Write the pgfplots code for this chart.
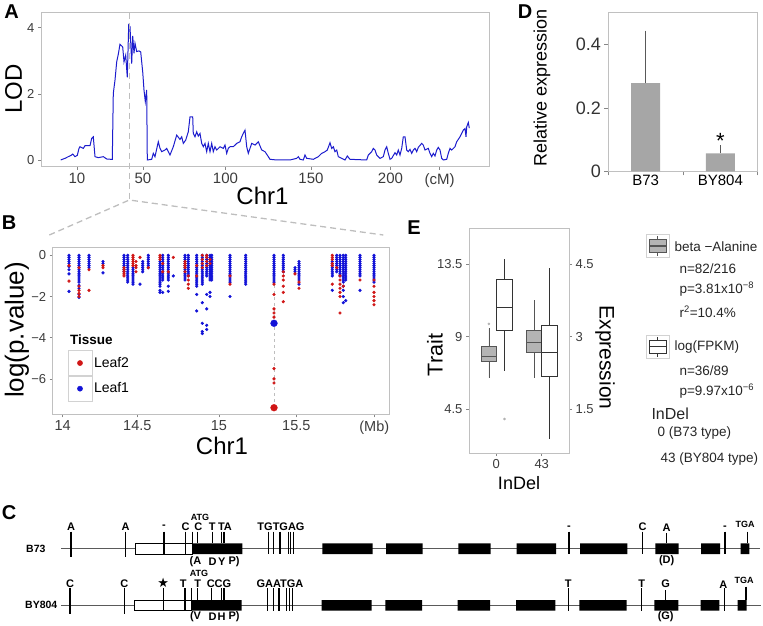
\documentclass[border=0pt]{standalone}
\usepackage{pgfplots}
\pgfplotsset{compat=1.18}
\usepgfplotslibrary{statistics}
\usepackage{fontspec}
\setmainfont{Liberation Sans}
\newfontfamily\symfont{DejaVu Sans}
\newcommand\fs[1]{\fontsize{#1}{#1}\selectfont}

\definecolor{lodblue}{RGB}{28,28,205}
\definecolor{ptblue}{RGB}{18,18,215}
\definecolor{ptred}{RGB}{208,22,22}
\definecolor{frame}{RGB}{192,192,192}
\definecolor{ticktxt}{RGB}{60,60,60}
\definecolor{boxgray}{RGB}{180,180,180}
\definecolor{boxedge}{RGB}{85,85,85}
\definecolor{bargray}{RGB}{166,166,166}
\definecolor{dashgray}{RGB}{190,190,190}
\definecolor{geneline}{RGB}{90,90,90}

\pgfplotsset{
  gg/.style={scale only axis, anchor=south west,
    axis line style={draw=frame, line width=0.8pt},
    tick align=outside, major tick length=3pt,
    tick style={draw=frame!70!black, line width=0.7pt},
    xtick pos=bottom, ytick pos=left,
    /pgf/number format/assume math mode=true,
    tick label style={text=ticktxt, font=\fs{13}},
    clip mode=individual},
}

\begin{document}
\begin{tikzpicture}[x=1pt,y=1pt]
\useasboundingbox (0,0) rectangle (763,-625);

% ---------------- A: LOD profile
\begin{axis}[gg, at={(41pt,-166.7pt)}, width=448pt, height=154pt,
  xmin=41, xmax=489, ymin=-0.193, ymax=4.452,
  xtick={77,143,225.5,311,390.5,439.5}, xticklabels={10,50,100,150,200,(cM)},
  ytick={0,2,4}, yticklabels={0,2,4},
  xticklabel style={font=\fs{15}}]
\addplot[lodblue, line width=1pt] coordinates {
(60.7,0.01)(65,0.06)(68.3,0.11)(71.7,0.16)(72.7,0.19)(75,0.11)(77.3,0.15)(79,0.36)(80,0.41)(83.3,0.36)(85,0.44)(90,0.44)(91.7,0.66)(93.3,0.71)(95,0.11)(98.3,0.08)(103.3,0.11)(106.7,0.04)(111,0.03)(112.3,0.03)(113.3,2.02)(115,2.42)(116.7,2.97)(118.3,3.2)(120,3.5)(122.7,3.42)(124,2.97)(125.7,3.17)(127.3,2.5)(128.7,4.08)(130,4.03)(131.7,2.92)(132.7,3.75)(134,3.23)(135,3.53)(136.7,3.28)(139,3.3)(140.7,3.27)(142.7,2.67)(144,2.12)(145.3,1.77)(146.7,2.12)(147.3,0.01)(151.7,0.03)(153.3,0.21)(155,0.11)(158.3,0.56)(160,0.36)(161.7,0.26)(165,0.31)(166.7,0.36)(170,0.16)(173.3,0.41)(176.7,0.76)(180,0.63)(181.7,0.71)(183.3,0.51)(185.7,0.61)(188.3,0.86)(190,1.31)(192.7,1.31)(193.3,0.81)(195,0.71)(196.7,0.86)(198.3,0.73)(200,0.81)(201.7,0.51)(203.3,0.41)(205,0.51)(206.7,0.26)(208.3,0.51)(210,0.26)(211.7,0.51)(213.3,0.26)(215,0.41)(216.7,0.31)(220,0.41)(223.3,0.36)(225,0.46)(226.7,0.21)(228.3,0.36)(230,0.41)(233.3,0.41)(236.7,0.51)(240,0.56)(241.7,0.71)(243.3,0.81)(245,0.91)(246.7,0.41)(248.3,0.21)(251.7,0.51)(255,0.46)(258.3,0.56)(261.7,0.31)(265,0.26)(268.3,0.11)(270,0.03)(276.7,0.01)(290,0.01)(296.7,0.06)(298.3,0.11)(300,0.03)(303.3,0.01)(305,0.16)(306.7,0.06)(313.3,0.03)(318.3,0.11)(321.7,0.21)(325,0.26)(327.3,0.31)(330,0.53)(331.7,0.36)(333.3,0.41)(335,0.26)(336.7,0.31)(338.3,0.11)(341.7,0.06)(345,0.01)(347.3,0.13)(350,0.03)(366.7,0.01)(368.3,0.16)(371.7,0.26)(373.3,0.36)(375,0.31)(376.7,0.16)(380,0.06)(383.3,0.11)(385,0.31)(386.7,0.41)(388.3,0.21)(390,0.03)(391.7,0.06)(395,0.23)(396.7,0.16)(398.3,0.31)(400,0.16)(401.7,0.36)(403.3,0.71)(405,0.71)(406.7,0.31)(408.3,0.26)(410,0.33)(411.7,0.21)(413.3,0.31)(415,0.36)(416.7,0.26)(418.3,0.39)(421.7,0.51)(423.3,0.46)(425,0.31)(428.3,0.36)(430,0.21)(431.7,0.11)(433.3,0.21)(435,0.13)(436.7,0.31)(438.3,0.39)(440,0.31)(441.7,0.06)(443.3,0.01)(446.7,0.03)(448.3,0.21)(450,0.36)(451.7,0.31)(455,0.41)(456.7,0.56)(460,0.71)(463.3,0.91)(465,0.96)(466,0.71)(466.7,1.01)(468.3,1.14)(469.3,0.97)};
\end{axis}

% ---------------- B: association scan
\begin{axis}[gg, at={(52.7pt,-414.3pt)}, width=336.3pt, height=166.6pt,
  xmin=52.7, xmax=389, ymin=-7.72, ymax=0.37,
  xtick={62.7,137.3,219,296.3,374.3}, xticklabels={14,14.5,15,15.5,(Mb)},
  ytick={-6,-4,-2,0}, yticklabels={−6,−4,−2,0},
  xticklabel style={font=\fs{14.5}},
  legend style={at={(axis cs:67.3,-4.6)}, anchor=north west, draw=none, fill=none,
    font=\fs{14}, row sep=0pt, inner sep=0pt, nodes={inner sep=1.5pt}},
  legend cell align=left,
  legend image code/.code={\draw[draw=gray!35, fill=white, line width=0.6pt] (0pt,-12.5pt) rectangle (24.4pt,12.5pt); \fill (12.2pt,0pt) circle (2.6pt);},
  reverse legend]
\draw[dashgray, dashed, line width=0.8pt] (274,0) -- (274,-7.4);
\addplot[only marks, mark=*, mark size=1.4pt, ptblue, mark options={draw=none}] coordinates {
(69,0)(69,-0.1)(69,-0.2)(69,-0.3)(69,-0.4)(69,-0.55)(69,-0.7)(69,-0.9)(69,-1.75)
(79,0)(79,-0.1)(79,-0.2)(79,-0.3)(79,-0.4)(79,-0.5)(79,-0.6)(79,-0.7)(79,-0.8)(79,-0.9)(79,-1.0)(79,-1.1)(79,-1.2)(79,-1.3)(79,-1.45)(79,-1.6)(79,-1.9)(79,-2.05)
(89,0)(89,-0.1)(89,-0.2)(89,-0.3)(89,-0.4)(89,-0.5)(89,-0.6)
(103,-0.3)(103,-0.4)(103,-0.85)
(124,0)(124,-0.1)(124,-0.2)(124,-0.3)(124,-0.4)(124,-0.5)(124,-0.6)(124,-0.7)(124,-0.8)
(127.7,0)(127.7,-0.1)(127.7,-0.2)(127.7,-0.3)(127.7,-0.4)(127.7,-0.5)(127.7,-0.6)(127.7,-0.7)(127.7,-0.8)(127.7,-0.9)(127.7,-1.0)(127.7,-1.1)(127.7,-1.2)(127.7,-1.3)
(133,-0.6)(133,-0.7)(133,-0.8)(133,-0.9)(133,-1.0)(133,-1.1)(133,-1.2)(133,-1.3)(133,-1.4)
(140,-1.4)
(142.7,-0.3)(142.7,-0.4)(142.7,-0.5)(142.7,-0.6)(142.7,-0.7)(142.7,-0.8)
(148.3,0)(148.3,-0.1)(148.3,-0.2)(148.3,-0.3)(148.3,-0.4)(148.3,-0.5)(148.3,-0.6)
(160,-0.3)(160,-0.4)(160,-0.5)(160,-0.6)(160,-0.7)(160,-0.8)(160,-0.9)(160,-1.0)(160,-1.1)(160,-1.2)(160,-1.3)(160,-1.4)(160,-1.5)(160,-1.7)(160,-1.8)
(162.7,0)(162.7,-0.1)(162.7,-0.2)(162.7,-0.3)(162.7,-0.4)(162.7,-0.5)(162.7,-0.6)(162.7,-0.7)(162.7,-0.8)(162.7,-0.9)(162.7,-1.0)(162.7,-1.1)(162.7,-1.2)(162.7,-1.8)
(168.3,0)(168.3,-0.1)(168.3,-0.2)(168.3,-0.3)(168.3,-0.4)(168.3,-0.5)(168.3,-0.6)(168.3,-0.7)(168.3,-0.8)(168.3,-0.9)(168.3,-1.0)(168.3,-1.1)(168.3,-1.2)(168.3,-1.5)(168.3,-1.75)
(173.3,-1.0)
(185,0)(185,-0.1)(185,-0.2)(185,-0.3)(185,-0.4)(185,-0.5)(185,-0.6)(185,-0.7)(185,-0.8)(185,-0.9)(185,-1.0)(185,-1.1)(185,-1.2)
(188.3,0)(188.3,-0.1)(188.3,-0.2)(188.3,-0.3)(188.3,-0.4)(188.3,-0.5)(188.3,-0.6)(188.3,-0.7)(188.3,-0.8)(188.3,-0.9)(188.3,-1.0)
(196.7,0)(196.7,-0.1)(196.7,-0.2)(196.7,-0.3)(196.7,-0.4)(196.7,-0.5)(196.7,-0.6)(196.7,-0.7)(196.7,-0.8)(196.7,-0.9)(196.7,-1.0)(196.7,-1.1)(196.7,-1.2)(196.7,-1.3)(196.7,-1.4)(196.7,-1.5)(196.7,-1.9)(196.7,-2.7)
(202.3,0)(202.3,-0.1)(202.3,-0.2)(202.3,-0.3)(202.3,-0.4)(202.3,-0.5)(202.3,-0.6)(202.3,-0.7)(202.3,-0.8)(202.3,-0.9)(202.3,-1.0)(202.3,-1.1)(202.3,-1.2)(202.3,-1.3)(202.3,-1.4)(202.3,-2.3)(202.3,-3.3)(202.3,-3.7)(202.3,-3.8)
(206.7,0)(206.7,-0.1)(206.7,-0.2)(206.7,-0.3)(206.7,-0.4)(206.7,-0.5)(206.7,-0.6)(206.7,-0.7)(206.7,-0.8)(206.7,-0.9)(206.7,-1.0)(206.7,-1.9)(206.7,-2.6)(206.7,-3.4)(206.7,-3.6)
(210,0)(210,-0.1)(210,-0.2)(210,-0.3)(210,-0.4)(210,-0.5)(210,-0.6)(210,-0.7)(210,-0.8)(210,-0.9)(210,-1.0)(210,-1.1)(210,-1.2)(210,-1.8)(210,-2.0)
(211.7,0)(211.7,-0.1)(211.7,-0.2)(211.7,-0.3)(211.7,-0.4)(211.7,-0.5)(211.7,-0.6)(211.7,-0.7)(211.7,-0.8)(211.7,-0.9)(211.7,-1.0)(211.7,-1.1)(211.7,-1.2)
(230,0)(230,-0.1)(230,-0.2)(230,-0.3)(230,-0.4)(230,-0.5)(230,-0.6)(230,-0.7)(230,-0.8)(230,-0.9)(230,-1.0)(230,-1.1)(230,-1.2)(230,-1.3)(230,-2.0)
(245.7,0)(245.7,-0.1)(245.7,-0.2)(245.7,-0.3)(245.7,-0.4)(245.7,-0.5)(245.7,-0.6)(245.7,-0.7)(245.7,-0.8)(245.7,-0.9)(245.7,-1.0)(245.7,-1.1)(245.7,-1.2)(245.7,-1.3)(245.7,-1.4)
(274,0)(274,-0.1)(274,-0.2)(274,-0.3)(274,-0.4)(274,-0.5)(274,-0.6)(274,-0.7)(274,-0.8)(274,-0.9)(274,-1.0)(274,-1.1)(274,-1.2)(274,-1.3)
(283.3,0)(283.3,-0.1)(283.3,-0.2)(283.3,-0.3)(283.3,-0.4)(283.3,-0.5)(283.3,-0.6)(283.3,-0.7)(283.3,-0.8)
(295,-0.6)(295,-0.7)(295,-0.8)
(299,-0.3)(299,-0.4)(299,-0.5)(299,-0.6)(299,-0.7)(299,-0.8)(299,-0.9)(299,-1.0)(299,-1.1)(299,-1.2)(299,-1.4)
(332.3,-0.3)(332.3,-0.4)(332.3,-0.5)(332.3,-0.6)(332.3,-0.7)(332.3,-0.8)(332.3,-0.9)(332.3,-1.0)(332.3,-1.7)
(336.7,0)(336.7,-0.1)(336.7,-0.2)(336.7,-0.3)(336.7,-0.4)(336.7,-0.5)(336.7,-0.6)(336.7,-0.7)(336.7,-0.8)
(340,0)(340,-0.1)(340,-0.2)(340,-0.3)(340,-0.4)(340,-0.5)(340,-0.6)(340,-0.7)(340,-0.8)(340,-0.9)(340,-1.0)
(343.3,0)(343.3,-0.1)(343.3,-0.2)(343.3,-0.3)(343.3,-0.4)(343.3,-0.5)(343.3,-0.6)(343.3,-0.7)(343.3,-0.8)(343.3,-0.9)(343.3,-1.0)(343.3,-1.1)(343.3,-1.2)(343.3,-1.3)(343.3,-1.5)(343.3,-1.7)(343.3,-2.0)(343.3,-2.3)
(345.7,0)(345.7,-0.1)(345.7,-0.2)(345.7,-0.3)(345.7,-0.4)(345.7,-0.5)(345.7,-0.6)(345.7,-0.7)(345.7,-0.8)(345.7,-0.9)(345.7,-1.0)(345.7,-1.1)(345.7,-1.2)(345.7,-2.2)
(360,0)(360,-0.1)(360,-0.2)(360,-0.3)(360,-0.4)(360,-0.5)(360,-0.6)(360,-0.7)(360,-0.8)(360,-0.9)(360,-1.0)(360,-1.7)
(374,0)(374,-0.1)(374,-0.2)(374,-0.3)(374,-0.4)(374,-0.5)(374,-0.6)(374,-0.7)(374,-0.8)(374,-0.9)(374,-1.0)(374,-1.1)(374,-1.2)(374,-1.3)};
\addlegendentry{Leaf1}
\addplot[only marks, mark=*, mark size=1.4pt, ptred, mark options={draw=none}] coordinates {
(69,-0.5)(69,-1.25)
(79,-0.6)(79,-1.5)(79,-1.7)(79,-1.85)(79,-2.0)
(89,-0.7)(89,-1.7)
(103,-0.5)(103,-0.6)
(124,-0.6)(124,-0.7)(124,-0.8)(124,-0.9)(124,-1.0)
(133,0)(133,-0.1)(133,-0.2)(133,-0.3)(133,-0.4)(133,-0.5)
(136,-0.3)(136,-0.5)(136,-0.6)(136,-0.8)
(140,-0.1)
(148.3,-0.6)
(160,0)(160,-0.1)(160,-0.2)
(162.7,-0.4)(162.7,-0.8)
(168.3,-0.8)
(173.3,-0.1)
(185,-0.3)(185,-0.4)(185,-0.5)(185,-0.6)(185,-0.8)
(188.3,-1.0)(188.3,-1.2)(188.3,-1.4)(188.3,-1.6)
(196.7,-0.5)(196.7,-1.0)
(202.3,0)(202.3,-0.2)(202.3,-0.4)(202.3,-0.6)
(206.7,0)(206.7,-0.1)(206.7,-0.3)(206.7,-0.5)
(210,-0.2)(210,-0.4)
(230,-1.0)(230,-1.4)
(274,-1.4)(274,-1.9)(274,-2.6)(274,-2.8)(274,-3.0)(274,-5.5)(274,-6.0)(274,-6.2)
(283.3,-0.8)(283.3,-1.0)(283.3,-1.2)(283.3,-1.5)(283.3,-1.8)(283.3,-2.25)
(295,-0.9)
(299,-1.3)(299,-1.6)
(332.3,0)(332.3,-0.1)(332.3,-0.2)(332.3,-0.4)(332.3,-0.5)(332.3,-1.4)
(336.7,-0.6)
(340,-1.0)(340,-1.2)(340,-1.4)(340,-1.6)(340,-1.8)(340,-2.0)(340,-2.8)
(343.3,-1.5)
(360,-1.2)
(374,-1.2)(374,-1.5)(374,-1.8)(374,-2.0)(374,-2.2)(374,-2.4)};
\addlegendentry{Leaf2}
\addplot[only marks, mark=*, mark size=3.4pt, ptblue, forget plot] coordinates {(274,-3.3)};
\addplot[only marks, mark=*, mark size=3.4pt, ptred, forget plot] coordinates {(274,-7.4)};
\end{axis}

% ---------------- D: relative expression
\begin{axis}[scale only axis, anchor=south west, at={(608.3pt,-171.3pt)}, width=149.4pt, height=158.6pt,
  xmin=-0.5, xmax=1.5, ymin=0, ymax=0.5,
  axis line style={draw=frame, line width=0.8pt},
  tick align=outside, major tick length=4pt, tick style={draw=frame!70!black, line width=0.7pt},
  xtick pos=bottom, ytick pos=left,
  xtick={-0.5,0.5,1.5}, xticklabels={},
  extra x ticks={0,1}, extra x tick labels={B73,BY804},
  extra x tick style={major tick length=0pt, tick label style={font=\fs{15}}},
  ytick={0,0.2,0.4}, yticklabels={0,0.2,0.4},
  yticklabel style={font=\fs{18}, text=black!80},
  /pgf/number format/assume math mode=true]
\addplot[ybar, bar width=29pt, fill=bargray, draw=none,
  error bars/.cd, y dir=plus, y explicit,
  error bar style={draw=black!65, line width=0.8pt},
  error mark options={draw=black!65, line width=0.8pt, mark size=2.6pt}]
  coordinates {(0,0.278) +- (0,0.157) (1,0.0565) +- (0,0.0175)};
\node[font=\fs{22}] at (axis cs:1,0.097) {*};
\end{axis}

% ---------------- E: boxplots, trait (left axis)
\begin{axis}[gg, at={(469pt,-453pt)}, width=100pt, height=224.7pt,
  xmin=0.4, xmax=2.6, ymin=1.80, ymax=15.71,
  xtick={1,2}, xticklabels={0,43}, ytick={4.5,9,13.5}, yticklabels={4.5,9,13.5},
  boxplot/draw direction=y,
  boxplot/every median/.style={line width=1.3pt}]
\addplot[draw=boxedge, fill=boxgray, line width=0.7pt, boxplot prepared={draw position=0.837,
  lower whisker=6.46, lower quartile=7.45, median=7.76, upper quartile=8.38, upper whisker=9.52,
  box extend=0.34, whisker extend=0}] coordinates {};
\addplot[draw=boxedge, fill=boxgray, line width=0.7pt, boxplot prepared={draw position=1.835,
  lower whisker=6.46, lower quartile=8.03, median=8.65, upper quartile=9.37, upper whisker=11.27,
  box extend=0.34, whisker extend=0}] coordinates {};
\addplot[only marks, mark=*, mark size=1.1pt, gray!60] coordinates {(0.837,9.79)};
\end{axis}

% ---------------- E: boxplots, expression (right axis)
\begin{axis}[scale only axis, anchor=south west, at={(469pt,-453pt)}, width=100pt, height=224.7pt,
  xmin=0.4, xmax=2.6, ymin=0.6, ymax=5.237,
  axis x line=none, axis y line*=right,
  axis line style={draw=frame, line width=0.8pt},
  tick align=outside, major tick length=3pt, tick style={draw=frame!70!black, line width=0.7pt},
  ytick={1.5,3,4.5}, yticklabels={1.5,3,4.5},
  tick label style={text=ticktxt, font=\fs{13}},
  /pgf/number format/assume math mode=true,
  boxplot/draw direction=y,
  boxplot/every median/.style={line width=1.3pt}]
\addplot[draw=black!80, fill=white, line width=0.7pt, boxplot prepared={draw position=1.181,
  lower whisker=2.30, lower quartile=3.14, median=3.60, upper quartile=4.18, upper whisker=4.60,
  box extend=0.34, whisker extend=0}] coordinates {};
\addplot[draw=black!80, fill=white, line width=0.7pt, boxplot prepared={draw position=2.168,
  lower whisker=0.88, lower quartile=2.19, median=2.67, upper quartile=3.23, upper whisker=4.41,
  box extend=0.34, whisker extend=0}] coordinates {};
\addplot[only marks, mark=*, mark size=1.1pt, gray!60] coordinates {(1.181,1.303)};
\end{axis}

% ---------------- canvas: labels, legend of E, connectors, gene model C
\begin{axis}[at={(0pt,-625pt)}, anchor=south west, scale only axis, width=763pt, height=625pt,
  xmin=0, xmax=763, ymin=-625, ymax=0, hide axis, clip=false]
% panel letters
\node[font=\fs{20}\bfseries] at (11.7,-11.7) {A};
\node[font=\fs{20}\bfseries] at (9.2,-222.5) {B};
\node[font=\fs{20}\bfseries] at (9.2,-512.5) {C};
\node[font=\fs{20}\bfseries] at (525,-12) {D};
\node[font=\fs{20}\bfseries] at (414,-227.5) {E};
% axis titles
\node[rotate=90, font=\fs{24}] at (13.5,-89) {LOD};
\node[font=\fs{24}] at (262.5,-196) {Chr1};
\node[rotate=90, font=\fs{26}] at (17,-330) {log(p.value)};
\node[font=\fs{24}] at (222,-446) {Chr1};
\node[rotate=90, font=\fs{18}] at (542,-87.5) {Relative expression};
\node[rotate=90, font=\fs{21.5}] at (435,-355) {Trait};
\node[rotate=-90, font=\fs{21}] at (605,-357.5) {Expression};
\node[font=\fs{18}] at (519,-483) {InDel};
\node[font=\fs{13.5}\bfseries, anchor=west] at (66.5,-340) {Tissue};
% zoom connectors
\draw[dashgray, line width=1.3pt, dash pattern=on 6pt off 4pt] (129.3,-12.7) -- (129.3,-200);
\draw[dashgray, line width=1.3pt, dash pattern=on 6pt off 4pt] (49.3,-235) -- (129.3,-200) -- (383.3,-235);
% legend of E
\draw[draw=gray!35, line width=0.8pt, fill=white] (646,-234) rectangle (669.3,-257.3);
\draw[boxedge, line width=0.7pt] (657.6,-236) -- (657.6,-239.3) (657.6,-252.3) -- (657.6,-255.7);
\draw[boxedge, fill=boxgray, line width=0.7pt] (649.3,-239.3) rectangle (666,-252.3);
\draw[boxedge, line width=1.3pt] (649.3,-246) -- (666,-246);
\draw[draw=gray!35, line width=0.8pt, fill=white] (646,-335) rectangle (669.3,-358.3);
\draw[black!80, line width=0.7pt] (657.6,-337) -- (657.6,-340) (657.6,-353.3) -- (657.6,-356.5);
\draw[black!80, fill=white, line width=0.7pt] (649.3,-340) rectangle (666,-353.3);
\draw[black!80, line width=1.3pt] (649.3,-346.7) -- (666,-346.7);
\begin{scope}[every node/.style={anchor=west, font=\fs{13.5}, text=black!85}]
\node at (671,-246.7) {beta −Alanine};
\node at (676,-268.3) {n=82/216};
\node at (676,-289.3) {p=3.81x10\textsuperscript{−8}};
\node at (676,-311.7) {r\textsuperscript{2}=10.4\%};
\node at (671,-346.7) {log(FPKM)};
\node at (676,-371) {n=36/89};
\node at (676,-391) {p=9.97x10\textsuperscript{−6}};
\node[font=\fs{16}] at (648,-413.3) {InDel};
\node at (654,-433.3) {0 (B73 type)};
\node at (657,-459) {43 (BY804 type)};
\end{scope}
% gene model
\draw[geneline, line width=1.3pt] (61,-548.7) -- (760,-548.7);
\draw[geneline, line width=1.3pt] (61,-605.3) -- (761,-605.3);
\draw[black, line width=0.7pt, fill=white] (135.7,-543.3) rectangle (192.3,-554);
\draw[black, line width=0.7pt, fill=white] (134.7,-600) rectangle (191,-610.7);
\fill[black] (192.3,-543.3) rectangle (242.3,-554) (322.3,-543.3) rectangle (372.7,-554)
  (386,-543.3) rectangle (422.7,-554) (458.3,-543.3) rectangle (490.7,-554)
  (516.7,-543.3) rectangle (556,-554) (580,-543.3) rectangle (627.3,-554)
  (655.3,-543.3) rectangle (678.7,-554) (701,-543.3) rectangle (720,-554)
  (740.7,-543.3) rectangle (749.3,-554);
\fill[black] (191,-600) rectangle (241.7,-610.7) (321.7,-600) rectangle (371.7,-610.7)
  (385.3,-600) rectangle (422,-610.7) (457.7,-600) rectangle (490,-610.7)
  (516,-600) rectangle (555.3,-610.7) (579.3,-600) rectangle (626.7,-610.7)
  (654.3,-600) rectangle (678.3,-610.7) (700.7,-600) rectangle (719.3,-610.7)
  (737.7,-600) rectangle (746.7,-610.7);
\draw[black, line width=1.2pt]
  (71,-531.7) -- (71,-557.3) (125.7,-531.7) -- (125.7,-557.3)
  (164,-531.7) -- (164,-554) (185.7,-531.7) -- (185.7,-554)
  (192.7,-531.7) -- (192.7,-543.3) (197.7,-531.7) -- (197.7,-543.3)
  (212.3,-531.7) -- (212.3,-543.3) (221.7,-531.7) -- (221.7,-543.3) (224,-531.7) -- (224,-543.3)
  (268.3,-531.7) -- (268.3,-554) (273.3,-531.7) -- (273.3,-554) (280,-531.7) -- (280,-554)
  (288.3,-531.7) -- (288.3,-554) (290.7,-531.7) -- (290.7,-554) (293.3,-531.7) -- (293.3,-554)
  (569,-531.7) -- (569,-554) (642.7,-531.7) -- (642.7,-554) (666.7,-533.3) -- (666.7,-543.3)
  (725,-531.7) -- (725,-554) (747.7,-531.7) -- (747.7,-543.3);
\draw[black, line width=1.2pt]
  (70,-588.3) -- (70,-614) (124.3,-588.3) -- (124.3,-614)
  (163.3,-588.3) -- (163.3,-610.7) (185,-588.3) -- (185,-610.7)
  (191.7,-588.3) -- (191.7,-600) (197.3,-588.3) -- (197.3,-600)
  (211.7,-588.3) -- (211.7,-600) (221.7,-588.3) -- (221.7,-600) (224,-588.3) -- (224,-600)
  (267.7,-588.3) -- (267.7,-610.7) (273.3,-588.3) -- (273.3,-610.7) (279,-588.3) -- (279,-610.7)
  (286.7,-588.3) -- (286.7,-610.7) (289.3,-588.3) -- (289.3,-610.7) (292.3,-588.3) -- (292.3,-610.7)
  (568.3,-588.3) -- (568.3,-610.7) (641.7,-588.3) -- (641.7,-610.7) (665.7,-590) -- (665.7,-600)
  (724.3,-588.3) -- (724.3,-610.7) (746,-586.7) -- (746,-600);
\begin{scope}[every node/.style={font=\fs{11}\bfseries, inner sep=0pt}]
\node[anchor=west, font=\fs{10.5}\bfseries] at (26,-548.7) {B73};
\node[anchor=west, font=\fs{10.5}\bfseries] at (25,-605.3) {BY804};
\node at (71,-526.5) {A}; \node at (125.7,-526.5) {A}; \node at (164,-526.5) {-};
\node at (185.7,-526.5) {C}; \node at (198.3,-526.5) {C}; \node at (212.3,-526.5) {T};
\node at (225,-526.5) {TA}; \node at (281,-526.5) {TGTGAG}; \node at (569,-527.3) {-};
\node at (642.7,-526.5) {C}; \node at (666.7,-527.3) {A}; \node at (725,-527.3) {-};
\node[font=\fs{9}\bfseries] at (200,-517) {ATG};
\node[font=\fs{9}\bfseries] at (745,-524) {TGA};
\node at (195.5,-561.7) {(A}; \node at (212.5,-561.7) {D}; \node at (221.7,-561.7) {Y}; \node at (234,-561.7) {P)};
\node at (666.7,-561) {(D)};
\node at (70,-583.3) {C}; \node at (124.3,-583.3) {C};
\node[font=\fs{13}\symfont] at (163.3,-583.3) {★};
\node at (183.3,-583.3) {T}; \node at (197.7,-583.3) {T}; \node at (219,-583.3) {CCG};
\node at (280,-583.3) {GAATGA}; \node at (568.3,-583.3) {T}; \node at (641.7,-583.3) {T};
\node at (665.7,-583.3) {G}; \node at (723.3,-585) {A};
\node[font=\fs{9}\bfseries] at (199,-573.3) {ATG};
\node[font=\fs{9}\bfseries] at (744,-580.7) {TGA};
\node at (195.5,-617) {(V}; \node at (212.5,-617) {D}; \node at (221.7,-617) {H}; \node at (234,-617) {P)};
\node at (665.7,-617) {(G)};
\end{scope}
\end{axis}
\end{tikzpicture}
\end{document}
